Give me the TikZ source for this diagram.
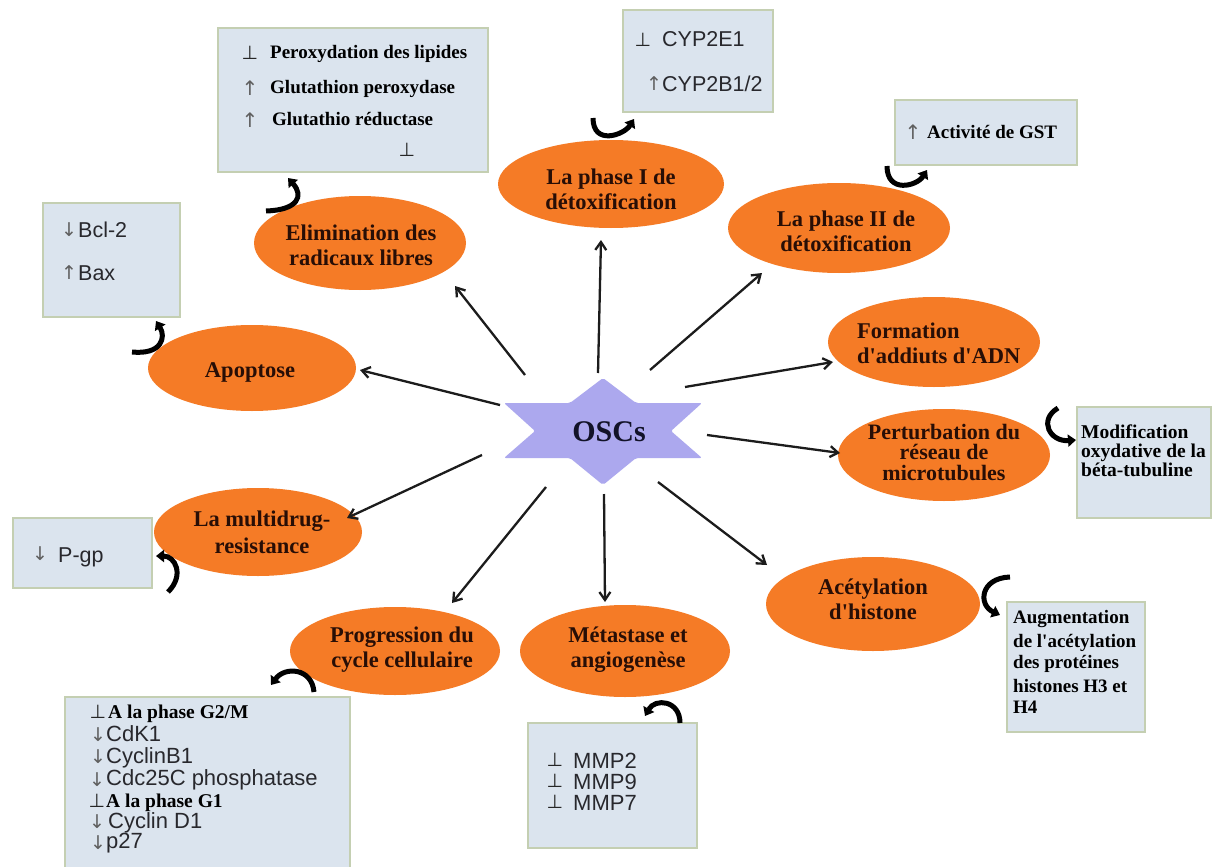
\documentclass[tikz,border=0pt]{standalone}
\usepackage{fontspec}
\setmainfont{Liberation Serif}[Ligatures=TeXOff]
\newfontfamily\sansf{Liberation Sans}[Ligatures=TeXOff]
\newfontfamily\symf{DejaVu Sans}
\usetikzlibrary{shapes.geometric,arrows.meta,calc}
\definecolor{ellorange}{RGB}{245,123,38}
\definecolor{elltxt}{RGB}{40,14,6}
\definecolor{boxfill}{RGB}{219,228,238}
\definecolor{boxline}{RGB}{196,207,178}
\definecolor{starfill}{RGB}{172,168,238}
\definecolor{arrcol}{RGB}{28,28,28}
\definecolor{symgray}{RGB}{95,95,95}
\definecolor{sanstxt}{RGB}{40,40,45}
\definecolor{osctxt}{RGB}{18,18,40}
\begin{document}
\begin{tikzpicture}[x=1pt,y=-1pt,
  ell/.style={ellipse, fill=ellorange, draw=none, inner sep=0pt},
  elltext/.style={font=\fontsize{22.5}{25}\selectfont\bfseries, text=elltxt, align=center, inner sep=0pt},
  infobox/.style={rectangle, fill=boxfill, draw=boxline, line width=2.5pt, inner sep=0pt},
  bt/.style={font=\fontsize{19}{21}\selectfont\bfseries, text=black, anchor=base west, inner sep=0pt},
  st/.style={font=\sansf\fontsize{21.5}{22}\selectfont, text=sanstxt, anchor=base west, inner sep=0pt},
  perp/.style={font=\symf\fontsize{19}{19}\selectfont, text=black!85, inner sep=0pt},
  updn/.style={font=\symf\fontsize{19}{19}\selectfont, text=symgray, inner sep=0pt},
  updnr/.style={font=\symf\fontsize{20}{20}\selectfont, text=symgray, inner sep=0pt},
  ray/.style={draw=arrcol, line width=2.3pt, -{Straight Barb[length=8pt,width=11pt]}},
  hook/.style={draw=black, line width=5pt, -{Triangle[length=8pt,width=12pt]}},
]
\useasboundingbox (0,0) rectangle (1213,867);
\fill[white] (0,0) rectangle (1213,867);

% central star
\fill[starfill, rounded corners=2pt] (603,378) -- (636,403) -- (702,403) -- (671,431) -- (702,458) -- (636,458) -- (603,485) -- (570,458) -- (504,458) -- (535,431) -- (504,403) -- (570,403) -- cycle;
\node[font=\fontsize{30}{30}\selectfont\bfseries, text=osctxt, inner sep=0pt] (osc) at (609,432) {OSCs};

% ellipses
\node[ell, minimum width=226pt, minimum height=88pt] (p1) at (611,184) {};
\node[elltext] (t1) at (611,189) {La phase I de\\détoxification};
\node[ell, minimum width=222pt, minimum height=90pt] (p2) at (839,228) {};
\node[elltext] (t2) at (846,231) {La phase II de\\détoxification};
\node[ell, minimum width=212pt, minimum height=94pt] (p3) at (360,243) {};
\node[elltext] (t3) at (361,245) {Elimination des\\radicaux libres};
\node[ell, minimum width=208pt, minimum height=86pt] (p4) at (252,368) {};
\node[elltext] (t4) at (250,372) {Apoptose};
\node[ell, minimum width=212pt, minimum height=90pt] (p5) at (934,342) {};
\node[elltext, align=left, anchor=west] (t5) at (857,343) {Formation\\d'addiuts d'ADN};
\node[ell, minimum width=212pt, minimum height=92pt] (p6) at (944,455) {};
\node[elltext, font=\fontsize{22}{20.5}\selectfont\bfseries] (t6) at (944,452) {Perturbation du\\réseau de\\microtubules};
\node[ell, minimum width=214pt, minimum height=94pt] (p7) at (873,604) {};
\node[elltext] (t7) at (873,599) {Acétylation\\d'histone};
\node[ell, minimum width=210pt, minimum height=92pt] (p8) at (625,651) {};
\node[elltext] (t8) at (628,650) {Métastase et\\angiogenèse};
\node[ell, minimum width=210pt, minimum height=88pt] (p9) at (395,651) {};
\node[elltext] (t9) at (402,650) {Progression du\\cycle cellulaire};
\node[ell, minimum width=208pt, minimum height=88pt] (p10) at (258,532) {};
\node[elltext, font=\fontsize{22.5}{27}\selectfont\bfseries] (t10) at (262,532) {La multidrug-\\resistance};

% rays from OSCs
\draw[ray] ($(osc)+(-11,-59)$) -- ($(p1)+(-10,56)$);
\draw[ray] ($(osc)+(41,-62)$) -- ($(p2)+(-77,45)$);
\draw[ray] ($(osc)+(-84,-57)$) -- ($(p3)+(95,43)$);
\draw[ray] ($(osc)+(-109,-27)$) -- ($(p4)+(108,2)$);
\draw[ray] ($(osc)+(76,-45)$) -- ($(p5)+(-101,20)$);
\draw[ray] ($(osc)+(98,3)$) -- ($(p6)+(-104,-2)$);
\draw[ray] ($(osc)+(49,50)$) -- ($(p7)+(-106,-39)$);
\draw[ray] ($(osc)+(-5,62)$) -- ($(p8)+(-20,-49)$);
\draw[ray] ($(osc)+(-63,55)$) -- ($(p9)+(57,-48)$);
\draw[ray] ($(osc)+(-127,23)$) -- ($(p10)+(89,-14)$);

% boxes
\node[infobox, minimum width=270pt, minimum height=144pt] (bA) at (353,100) {};
\node[perp] (a1s) at (250,53) {⊥};
\node[bt] (a1) at (270,59) {Peroxydation des lipides};
\node[updnr] (a2s) at (250,88) {↑};
\node[bt] (a2) at (270,93) {Glutathion peroxydase};
\node[updnr] (a3s) at (250,120) {↑};
\node[bt] (a3) at (272,125) {Glutathio réductase};
\node[perp] (a4s) at (407,150) {⊥};

\node[infobox, minimum width=150pt, minimum height=102pt] (bB) at (698,61) {};
\node[perp] (b1s) at (643,40) {⊥};
\node[st] (b1) at (662,47) {CYP2E1};
\node[updn] (b2s) at (654,84) {↑};
\node[st] (b2) at (662,92) {CYP2B1/2};

\node[infobox, minimum width=182pt, minimum height=65pt] (bC) at (986,132.5) {};
\node[updnr] (c1s) at (913,132) {↑};
\node[bt] (c1) at (927,138) {Activité de GST};

\node[infobox, minimum width=137pt, minimum height=114pt] (bD) at (111.5,260) {};
\node[updn] (d1s) at (69,230) {↓};
\node[st] (d1) at (78,237) {Bcl-2};
\node[updn] (d2s) at (69,273) {↑};
\node[st] (d2) at (78,280) {Bax};

\node[infobox, minimum width=139pt, minimum height=70pt] (bE) at (82.5,553) {};
\node[updn] (e1s) at (40,554) {↓};
\node[st] (e1) at (58,562) {P-gp};

\node[infobox, minimum width=285pt, minimum height=171pt] (bF) at (207.5,782.5) {};
\node[perp] (f1s) at (98,712) {⊥};
\node[bt, font=\fontsize{19.5}{21}\selectfont\bfseries] (f1) at (108,718) {A la phase G2/M};
\node[updn] (f2s) at (98,735) {↓};
\node[st, font=\sansf\fontsize{22}{22}\selectfont] (f2) at (106,741) {CdK1};
\node[updn] (f3s) at (98,757) {↓};
\node[st, font=\sansf\fontsize{22}{22}\selectfont] (f3) at (106,763) {CyclinB1};
\node[updn] (f4s) at (97,780) {↓};
\node[st, font=\sansf\fontsize{22}{22}\selectfont] (f4) at (106,785) {Cdc25C phosphatase};
\node[perp] (f5s) at (97,801) {⊥};
\node[bt, font=\fontsize{19.5}{21}\selectfont\bfseries] (f5) at (106,807) {A la phase G1};
\node[updn] (f6s) at (97,822) {↓};
\node[st, font=\sansf\fontsize{22}{22}\selectfont] (f6) at (108,828) {Cyclin D1};
\node[updn] (f7s) at (98,843) {↓};
\node[st, font=\sansf\fontsize{22}{22}\selectfont] (f7) at (106,848) {p27};

\node[infobox, minimum width=169pt, minimum height=125pt] (bG) at (612.5,785.5) {};
\node[perp] (g1s) at (555,760) {⊥};
\node[st, font=\sansf\fontsize{22}{22}\selectfont] (g1) at (573,768) {MMP2};
\node[perp] (g2s) at (555,781) {⊥};
\node[st, font=\sansf\fontsize{22}{22}\selectfont] (g2) at (573,789) {MMP9};
\node[perp] (g3s) at (555,802) {⊥};
\node[st, font=\sansf\fontsize{22}{22}\selectfont] (g3) at (573,810) {MMP7};

\node[infobox, minimum width=134pt, minimum height=111pt] (bH) at (1144,462.5) {};
\node[bt, font=\fontsize{19.5}{21}\selectfont\bfseries] (h1) at (1081,438) {Modification};
\node[bt, font=\fontsize{19.5}{21}\selectfont\bfseries] (h2) at (1081,457) {oxydative de la};
\node[bt, font=\fontsize{19.5}{21}\selectfont\bfseries] (h3) at (1081,476) {béta-tubuline};

\node[infobox, minimum width=138pt, minimum height=130pt] (bI) at (1076,667) {};
\node[bt] (i1) at (1013,623) {Augmentation};
\node[bt] (i2) at (1013,647) {de l'acétylation};
\node[bt] (i3) at (1013,668) {des protéines};
\node[bt] (i4) at (1013,692) {histones H3 et};
\node[bt] (i5) at (1013,713) {H4};

% hooked arrows from ellipses to boxes
\draw[hook] ($(p1)+(-18,-66)$) .. controls +(0,28) and +(-10,16) .. ($(bB)+(-64,58)$);
\draw[hook] ($(p2)+(48,-62)$) .. controls +(0,28) and +(-10,16) .. ($(bC)+(-59,37.5)$);
\draw[hook] ($(p3)+(-94,-32)$) .. controls +(32,-1) and +(16,18) .. ($(bA)+(-65,78)$);
\draw[hook] ($(p4)+(-120,-16)$) .. controls +(30,3) and +(10,16) .. ($(bD)+(44.5,61)$);
\draw[hook] ($(p10)+(-90,60)$) .. controls +(17,-17) and +(19,0) .. ($(bE)+(73.5,3)$);
\draw[hook] ($(p9)+(-81,41)$) .. controls +(-2,-24) and +(14,-19) .. ($(bF)+(63.5,-97.5)$);
\draw[hook] ($(p8)+(55,72)$) .. controls +(0,-23) and +(10,-18) .. ($(bG)+(32.5,-69.5)$);
\draw[hook] ($(p7)+(137,-27)$) .. controls +(-30,1) and +(-22,-10) .. ($(bI)+(-76,-52)$);
\draw[hook] ($(p6)+(114,-47)$) .. controls +(-20,12) and +(-26,2) .. ($(bH)+(-68,-22.5)$);
\end{tikzpicture}
\end{document}
